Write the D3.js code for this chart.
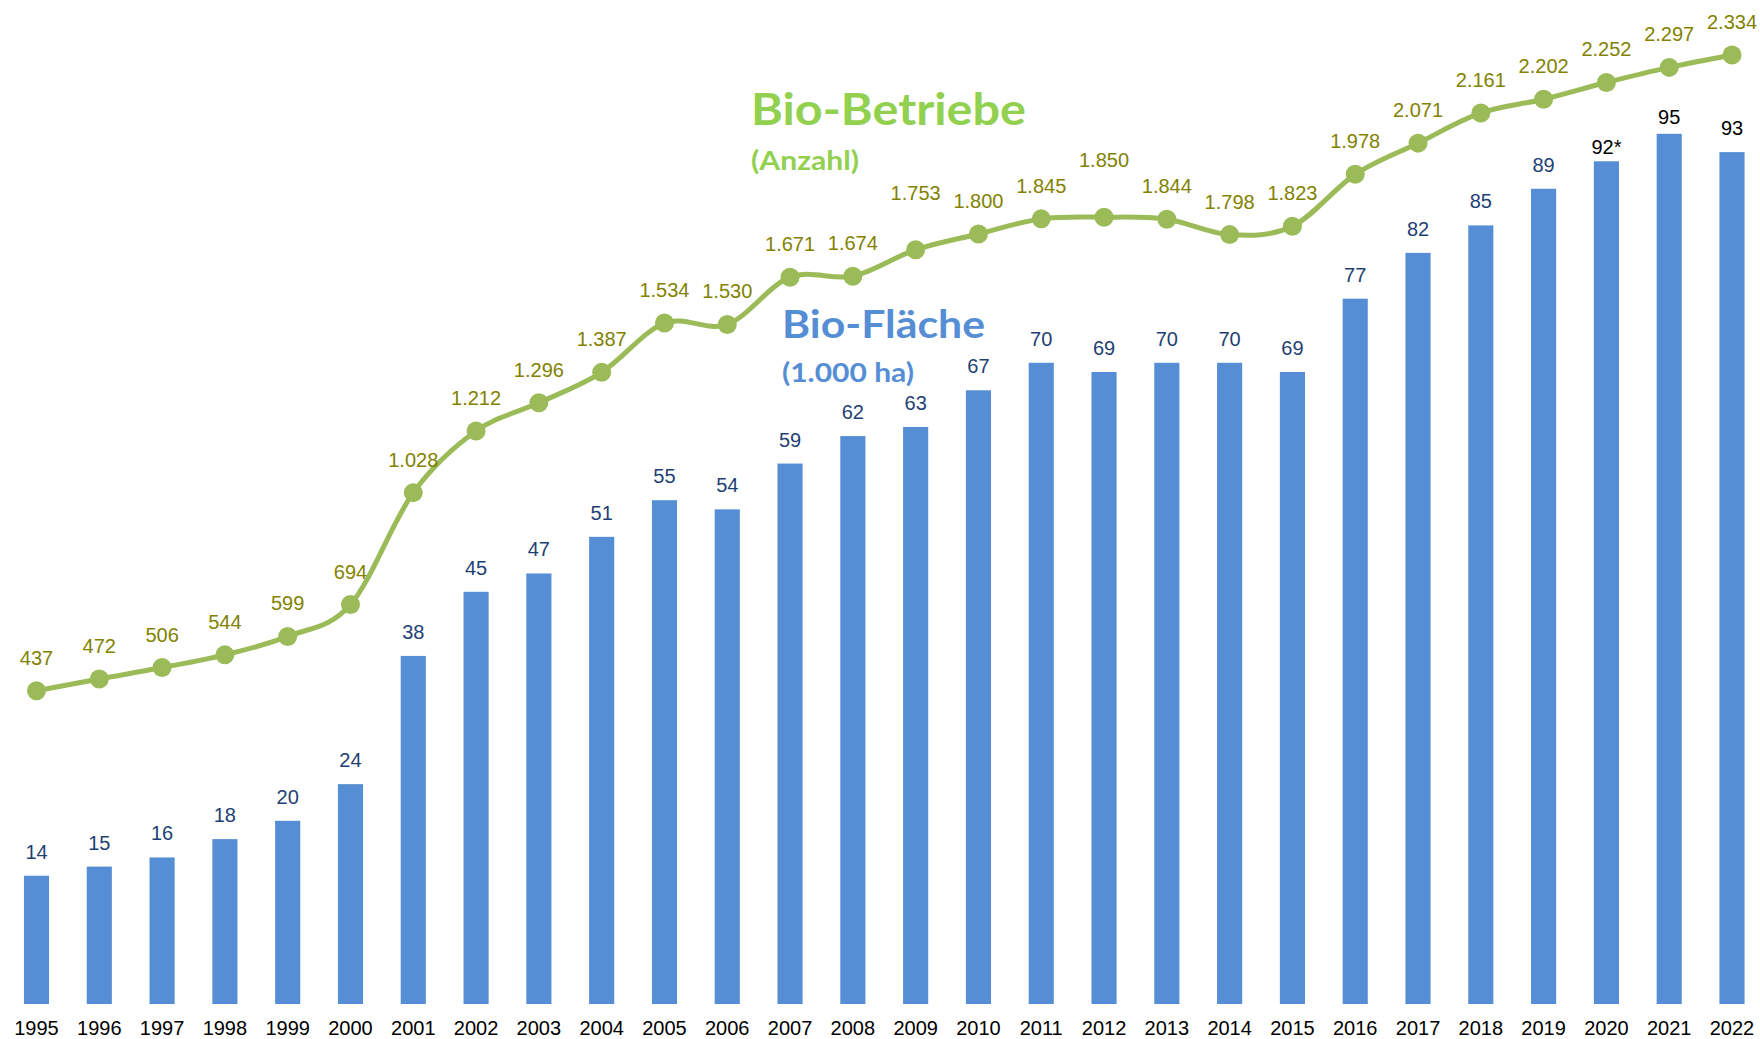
<!DOCTYPE html>
<html>
<head>
<meta charset="utf-8">
<script src="https://cdn.jsdelivr.net/npm/d3@7"></script>
<style>
  body { margin: 0; background: #fff; }
  svg { display: block; }
</style>
</head>
<body>
<svg id="chart"></svg>
<script>
// data
const years = [1995, 1996, 1997, 1998, 1999, 2000, 2001, 2002, 2003, 2004,
               2005, 2006, 2007, 2008, 2009, 2010, 2011, 2012, 2013, 2014,
               2015, 2016, 2017, 2018, 2019, 2020, 2021, 2022];
const flaeche = [14, 15, 16, 18, 20, 24, 38, 45, 47, 51,
                 55, 54, 59, 62, 63, 67, 70, 69, 70, 70,
                 69, 77, 82, 85, 89, 92, 95, 93];
const betriebe = [437, 472, 506, 544, 599, 694, 1028, 1212, 1296, 1387,
                  1534, 1530, 1671, 1674, 1753, 1800, 1845, 1850, 1844, 1798,
                  1823, 1978, 2071, 2161, 2202, 2252, 2297, 2334];
const starredYears = [2020];      // "92*"
const blackLabelYears = [2020, 2021, 2022];

// label nudges as in the original
const lineLabelLift = {2009: 24, 2012: 24};
const barLabelGap = {2020: 7, 2021: 10};

class BioChart {
    constructor(config) {
        this.config = {
            parent: config.parent,
            width: config.width || 1760,
            height: config.height || 1039
        };
        this.init();
    }

    init() {
        let self = this;
        self.svg = d3.select(self.config.parent)
            .attr('width', self.config.width)
            .attr('height', self.config.height);

        self.xscale = d3.scalePoint()
            .domain(years)
            .range([36.5, 1732]);

        self.barscale = d3.scaleLinear()
            .domain([0, 100])
            .range([1004, 88]);

        self.linescale = d3.scaleLinear()
            .domain([437, 2334])
            .range([690.7, 55]);

        self.barwidth = self.xscale.step() * 0.4;
    }

    render() {
        let self = this;
        const rows = years.map((y, i) => ({year: y, area: flaeche[i], farms: betriebe[i]}));

        // bars
        self.svg.append('g').selectAll('rect')
            .data(rows)
            .join('rect')
            .attr('x', d => self.xscale(d.year) - self.barwidth / 2)
            .attr('y', d => self.barscale(d.area))
            .attr('width', self.barwidth)
            .attr('height', d => self.barscale(0) - self.barscale(d.area))
            .attr('fill', '#558ED5');

        self.svg.append('g').selectAll('text')
            .data(rows)
            .join('text')
            .attr('x', d => self.xscale(d.year))
            .attr('y', d => self.barscale(d.area) - (barLabelGap[d.year] || 17))
            .attr('text-anchor', 'middle')
            .attr('font-family', 'Liberation Sans, Arial, sans-serif')
            .attr('font-size', 20)
            .attr('fill', d => blackLabelYears.includes(d.year) ? '#000' : '#1F3F74')
            .text(d => d.area + (starredYears.includes(d.year) ? '*' : ''));

        // line
        const line = d3.line()
            .x(d => self.xscale(d.year))
            .y(d => self.linescale(d.farms))
            .curve(d3.curveCardinal.tension(0));

        self.svg.append('path')
            .attr('d', line(rows))
            .attr('fill', 'none')
            .attr('stroke', '#9BBB59')
            .attr('stroke-width', 5);

        self.svg.append('g').selectAll('circle')
            .data(rows)
            .join('circle')
            .attr('cx', d => self.xscale(d.year))
            .attr('cy', d => self.linescale(d.farms))
            .attr('r', 9.5)
            .attr('fill', '#9BBB59');

        self.svg.append('g').selectAll('text')
            .data(rows)
            .join('text')
            .attr('x', d => self.xscale(d.year))
            .attr('y', d => self.linescale(d.farms) - 26 - (lineLabelLift[d.year] || 0))
            .attr('text-anchor', 'middle')
            .attr('font-family', 'Liberation Sans, Arial, sans-serif')
            .attr('font-size', 20)
            .attr('fill', '#828200')
            .text(d => d3.format(',')(d.farms).replace(',', '.'));

        // year axis labels
        self.svg.append('g').selectAll('text')
            .data(years)
            .join('text')
            .attr('x', d => self.xscale(d))
            .attr('y', 1034.5)
            .attr('text-anchor', 'middle')
            .attr('font-family', 'Liberation Sans, Arial, sans-serif')
            .attr('font-size', 20)
            .attr('fill', '#000')
            .text(d => d);

        // series titles
        const titles = [
            {t: 'Bio-Betriebe', x: 751, y: 125, size: 44, w: 275, c: '#92D050'},
            {t: '(Anzahl)', x: 751, y: 170, size: 27, w: 108, c: '#92D050'},
            {t: 'Bio-Fläche', x: 782, y: 338, size: 39, w: 203, c: '#558ED5'},
            {t: '(1.000 ha)', x: 782, y: 382, size: 27, w: 132, c: '#558ED5'}
        ];
        self.svg.append('g').selectAll('text')
            .data(titles)
            .join('text')
            .attr('x', d => d.x)
            .attr('y', d => d.y)
            .attr('font-family', 'Lato, Open Sans, sans-serif')
            .attr('font-weight', 'bold')
            .attr('font-size', d => d.size)
            .attr('textLength', d => d.w)
            .attr('lengthAdjust', 'spacingAndGlyphs')
            .attr('fill', d => d.c)
            .text(d => d.t);
    }
}

const chart = new BioChart({parent: '#chart', width: 1760, height: 1039});
chart.render();
</script>
</body>
</html>
